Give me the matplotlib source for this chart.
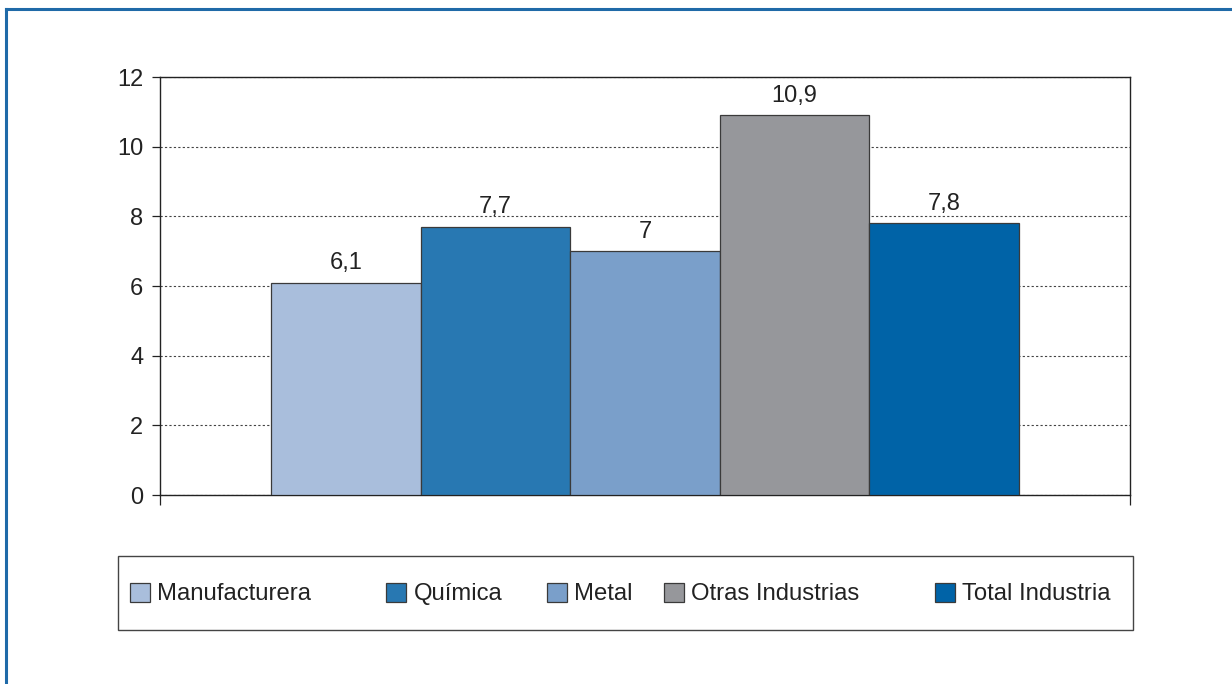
import matplotlib
matplotlib.use("Agg")
import matplotlib.pyplot as plt
from matplotlib.lines import Line2D
from matplotlib.patches import Rectangle

categories = ["Manufacturera", "Química", "Metal", "Otras Industrias", "Total Industria"]
values = [6.1, 7.7, 7.0, 10.9, 7.8]
value_labels = ["6,1", "7,7", "7", "10,9", "7,8"]
colors = ["#a9bedc", "#2878b2", "#7a9fca", "#96979b", "#0063a7"]
yticks = [0, 2, 4, 6, 8, 10, 12]

plt.rcParams['font.family'] = ['Liberation Sans', 'DejaVu Sans']
W, H = 1232, 684
fig = plt.figure(figsize=(W / 100, H / 100), dpi=100)

ax = fig.add_axes([160 / W, 1 - 495 / H, (1130 - 160) / W, (495 - 77) / H])
bars = []
for i, (v, c) in enumerate(zip(values, colors)):
    b = ax.bar(i, v, width=1.0, color=c, edgecolor="#3a3a3a", linewidth=0.9, zorder=3)
    bars.append(b)
    ax.bar_label(b, labels=[value_labels[i]], padding=6, fontsize=17, color="#222222")

ax.set_xlim(-1.242, 5.242)
ax.set_ylim(0, 12)
ax.set_yticks(yticks)
ax.set_yticklabels([str(t) for t in yticks], fontsize=17, color="#222222")
ax.set_xticks([-1.242, 5.242])
ax.set_xticklabels([])
ax.tick_params(axis="y", direction="out", length=6, width=0.9, pad=6, colors="#222222")
ax.tick_params(axis="x", direction="out", length=7, width=0.9, colors="#222222")
for sp in ax.spines.values():
    sp.set_color("#222222")
    sp.set_linewidth(1.0)
ax.yaxis.grid(True, linestyle=(0, (2, 2)), color="#444444", linewidth=0.8, zorder=0)
ax.set_axisbelow(True)

# legend box
fig.patches.append(Rectangle((118 / W, 1 - 630 / H), (1133 - 118) / W, (630 - 556) / H,
                             transform=fig.transFigure, fill=False, edgecolor="#444444",
                             linewidth=1.0))
marker_x = [130, 386, 547, 664, 935]
for i, (cat, mx) in enumerate(zip(categories, marker_x)):
    leg = fig.legend(handles=[bars[i]], labels=[cat], loc="center left",
                     bbox_to_anchor=(mx / W, 1 - 594 / H), frameon=False,
                     fontsize=17.2, borderpad=0, borderaxespad=0,
                     handlelength=0.85, handleheight=0.85, handletextpad=0.3)
    for t in leg.get_texts():
        t.set_color("#222222")

# outer blue border (left and top)
fig.lines.append(Line2D([5.5 / W, 5.5 / W], [0, 1 - 9 / H], transform=fig.transFigure,
                        color="#1f6aa8", linewidth=2.2))
fig.lines.append(Line2D([5.5 / W, 1], [1 - 9 / H, 1 - 9 / H], transform=fig.transFigure,
                        color="#1f6aa8", linewidth=2.2))

fig.savefig("out.png", dpi=100)
